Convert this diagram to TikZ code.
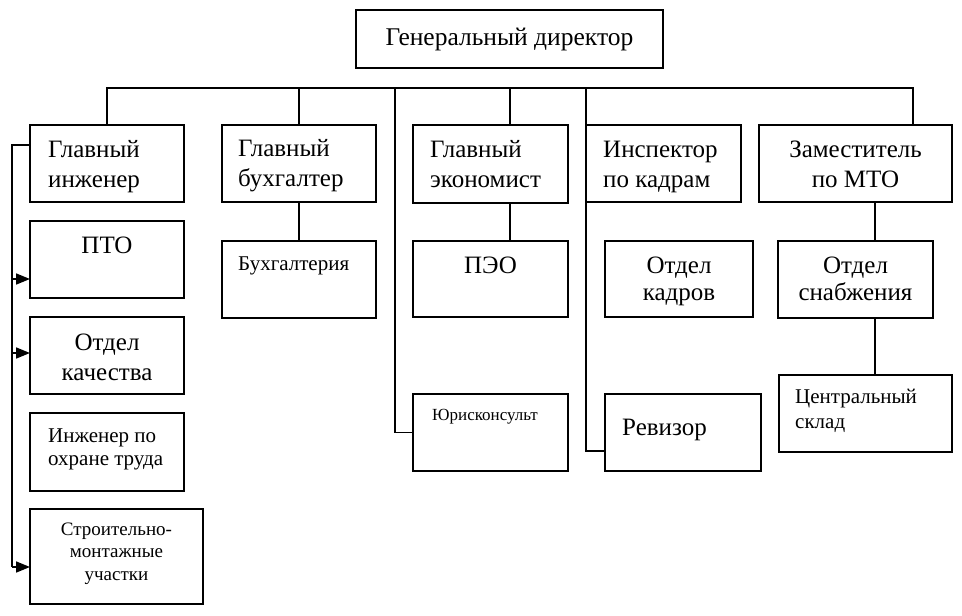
\documentclass[tikz,border=0pt]{standalone}
\usepackage{fontspec}
\setmainfont{Liberation Serif}
\usetikzlibrary{arrows.meta}
\tikzset{
  box/.style={draw=black, line width=1.7pt, inner sep=0pt, minimum width=#1},
  box/.default=154pt,
  conn/.style={draw=black, line width=1.7pt},
  arr/.style={conn, -{Triangle[length=14pt,width=11pt]}},
  txt/.style={inner sep=0pt, font=\fontsize{25}{30}\selectfont},
  txtm/.style={inner sep=0pt, font=\fontsize{21}{23}\selectfont},
}
\begin{document}
\begin{tikzpicture}[x=1pt,y=-1pt]
\useasboundingbox (0,0) rectangle (962,616);
% boxes
\node[box=307pt, minimum height=58pt] (gd) at (509.5,39) {};
\node[box, minimum height=77pt] (gi) at (107,163.5) {};
\node[box, minimum height=77pt] (pto) at (107,259.5) {};
\node[box, minimum height=77pt] (ok) at (107,355.5) {};
\node[box, minimum height=78pt] (iot) at (107,452) {};
\node[box=173pt, minimum height=95pt] (smu) at (116.5,556.5) {};
\node[box, minimum height=77pt] (gb) at (299,163.5) {};
\node[box, minimum height=77pt] (buh) at (299,279.5) {};
\node[box=155pt, minimum height=78pt] (ge) at (490.5,164) {};
\node[box=155pt, minimum height=76pt] (peo) at (490.5,279) {};
\node[box=155pt, minimum height=77pt] (yur) at (490.5,432.5) {};
\node[box=155pt, minimum height=77pt] (ik) at (663.5,163.5) {};
\node[box=148pt, minimum height=76pt] (okad) at (679,279) {};
\node[box=156pt, minimum height=77pt] (rev) at (683,432.5) {};
\node[box=193pt, minimum height=77pt] (zm) at (855.5,163.5) {};
\node[box=155pt, minimum height=77pt] (osn) at (855.5,279.5) {};
\node[box=173pt, minimum height=77pt] (cs) at (865.5,413.5) {};
% texts (base anchor = baseline of the last line)
\node[inner sep=0pt, font=\fontsize{25.5}{30}\selectfont, anchor=base] (tgd) at (509.5,45) {Генеральный директор};
\node[txt, anchor=base west, align=left] (tgi) at (48,187) {Главный\\инженер};
\node[txt, anchor=base] (tpto) at (107,253) {ПТО};
\node[txt, anchor=base, align=center] (tok) at (107,380) {Отдел\\качества};
\node[txtm, anchor=base west, align=left] (tiot) at (48,465) {Инженер по\\охране труда};
\node[inner sep=0pt, font=\fontsize{19}{22.5}\selectfont, anchor=base, align=center] (tsmu) at (116.5,580) {Строительно-\\монтажные\\участки};
\node[txt, anchor=base west, align=left] (tgb) at (238,186) {Главный\\бухгалтер};
\node[txtm, anchor=base west] (tbuh) at (238,270) {Бухгалтерия};
\node[txt, anchor=base west, align=left] (tge) at (430,187) {Главный\\экономист};
\node[txt, anchor=base] (tpeo) at (490.5,273) {ПЭО};
\node[inner sep=0pt, font=\fontsize{17}{20}\selectfont, anchor=base west] (tyur) at (432,420) {Юрисконсульт};
\node[txt, anchor=base west, align=left] (tik) at (603,187) {Инспектор\\по кадрам};
\node[inner sep=0pt, font=\fontsize{25}{26.5}\selectfont, anchor=base, align=center] (tokad) at (679,300) {Отдел\\кадров};
\node[txt, anchor=base west] (trev) at (622,435) {Ревизор};
\node[txt, anchor=base, align=center] (tzm) at (855.5,187) {Заместитель\\по МТО};
\node[inner sep=0pt, font=\fontsize{25}{27}\selectfont, anchor=base, align=center] (tosn) at (855.5,300) {Отдел\\снабжения};
\node[inner sep=0pt, font=\fontsize{21}{25}\selectfont, anchor=base west, align=left] (tcs) at (795,428) {Центральный\\склад};
% connector helper coordinates
\coordinate (busL) at (107,88);
\coordinate (busR) at (913,88);
\coordinate (dJ) at (395,88);
\coordinate (dE) at (510,88);
\coordinate (dK) at (586,88);
\coordinate (dZ) at (875,0);
\coordinate (revIn) at (605,451);
\coordinate (leftX) at (12,0);
\coordinate (giIn) at (30,145);
\coordinate (ptoIn) at (30,279);
\coordinate (okIn) at (30,353);
\coordinate (smuIn) at (30,567);
% bus
\draw[conn] (gi.north) -- (busL) -- (busR) -- (busR |- zm.north);
\draw[conn] (gb.north) -- (gb.north |- busL);
\draw[conn] (dE) -- (dE |- ge.north);
\draw[conn] (dJ) |- (yur.west);
\draw[conn] (dK) |- (revIn);
% vertical links
\draw[conn] (gb.south) -- (buh.north);
\draw[conn] (dE |- ge.south) -- (dE |- peo.north);
\draw[conn] (dZ |- zm.south) -- (dZ |- osn.north);
\draw[conn] (dZ |- osn.south) -- (dZ |- cs.north);
% left side
\draw[conn] (giIn) -- (leftX |- giIn) -- (leftX |- smuIn);
\draw[arr] (leftX |- ptoIn) -- (ptoIn);
\draw[arr] (leftX |- okIn) -- (okIn);
\draw[arr] (leftX |- smuIn) -- (smuIn);
\end{tikzpicture}
\end{document}
